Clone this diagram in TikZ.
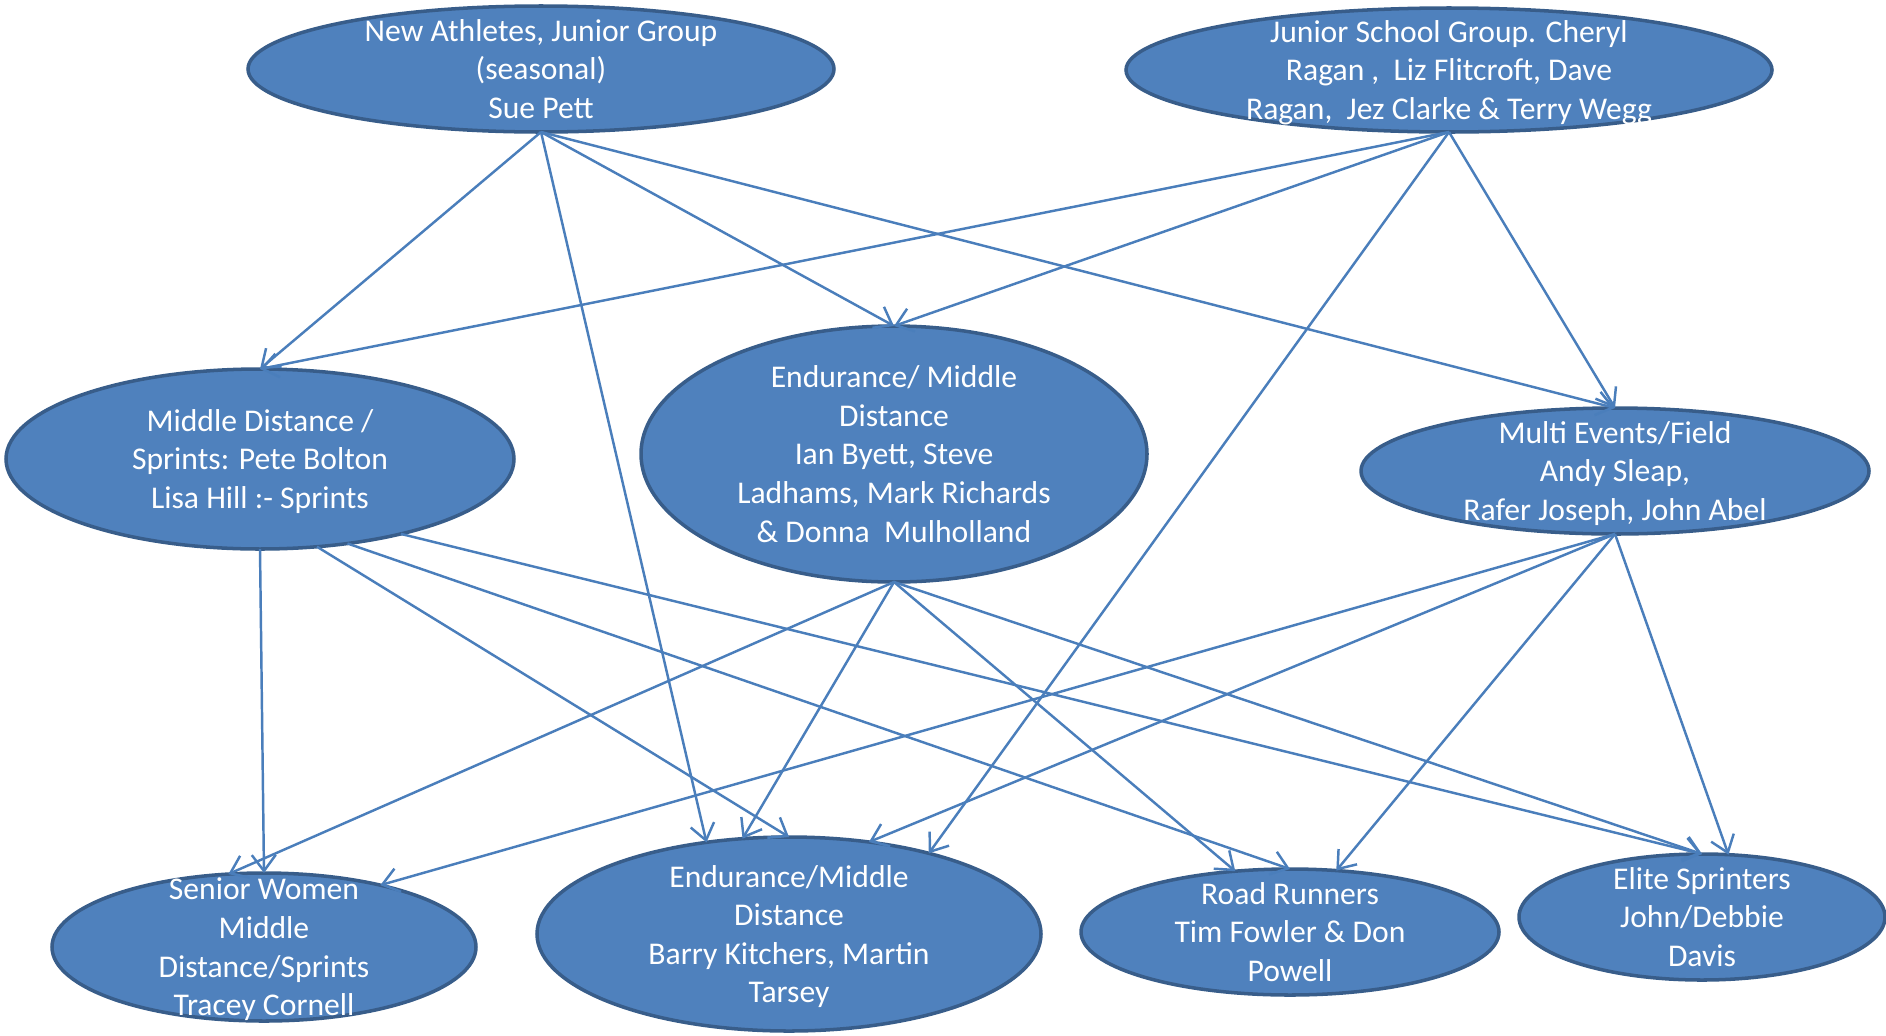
\documentclass[tikz,border=0pt]{standalone}
\usepackage{fontspec}
\setmainfont{Carlito}
\usetikzlibrary{shapes.geometric, arrows.meta}
\definecolor{grpblue}{RGB}{79,129,189}
\definecolor{grpedge}{RGB}{56,93,138}
\definecolor{linkblue}{RGB}{74,126,187}

\begin{document}
\begin{tikzpicture}[x=0.1mm, y=-0.1mm,
  group/.style={ellipse, draw=grpedge, fill=grpblue, line width=1pt, text=white, align=center,
    inner sep=-5mm, outer sep=0pt, text depth=0pt, font=\fontsize{9}{11}\selectfont},
  link/.style={draw=linkblue, line width=0.7pt, -{Straight Barb[length=1.6mm, width=2.4mm]}}]
  \useasboundingbox (0,0) rectangle (1886,1035);

  \node[group, minimum width=58.6mm, minimum height=12.6mm] (newath) at (541,69) {New Athletes, Junior Group\\(seasonal)\\Sue Pett};
  \node[group, minimum width=64.6mm, minimum height=12.4mm] (juniors) at (1449,70) {Junior School Group. Cheryl\\Ragan ,\ \ Liz Flitcroft, Dave\\Ragan,\ \ Jez Clarke \& Terry Wegg};
  \node[group, minimum width=50.8mm, minimum height=18mm] (middist) at (260,459) {Middle Distance /\\Sprints: Pete Bolton\\Lisa Hill :- Sprints};
  \node[group, minimum width=50.6mm, minimum height=25.6mm] (endur) at (894,454) {Endurance/ Middle\\Distance\\Ian Byett, Steve\\Ladhams, Mark Richards\\\& Donna\ \ Mulholland};
  \node[group, minimum width=50.8mm, minimum height=12.6mm] (multi) at (1615,471) {Multi Events/Field\\Andy Sleap,\\Rafer Joseph, John Abel};
  \node[group, minimum width=42.4mm, minimum height=14.8mm] (seniorw) at (264,947) {Senior Women\\Middle\\Distance/Sprints\\Tracey Cornell};
  \node[group, minimum width=50.4mm, minimum height=19.4mm] (endurb) at (789,934) {Endurance/Middle\\Distance\\Barry Kitchers, Martin\\Tarsey};
  \node[group, minimum width=41.8mm, minimum height=12.6mm] (road) at (1290,932) {Road Runners\\Tim Fowler \& Don\\Powell};
  \node[group, minimum width=36.6mm, minimum height=12.6mm] (elite) at (1702,917) {Elite Sprinters\\John/Debbie\\Davis};

  \draw[link] (newath.south) -- (middist.north);
  \draw[link] (newath.south) -- (endurb.132);
  \draw[link] (newath.south) -- (endur.north);
  \draw[link] (newath.south) -- (multi.north);

  \draw[link] (juniors.south) -- (middist.north);
  \draw[link] (juniors.south) -- (endur.north);
  \draw[link] (juniors.south) -- (endurb.30);
  \draw[link] (juniors.south) -- (multi.north);

  \draw[link] (middist.south) -- (seniorw.north);
  \draw[link] (middist.-57) -- (endurb.north);
  \draw[link] (middist.-44) -- (road.north);
  \draw[link] (middist.-28) -- (elite.north);

  \draw[link] (endur.south) -- (seniorw.116);
  \draw[link] (endur.south) -- (endurb.116);
  \draw[link] (endur.south) -- (road.132);
  \draw[link] (endur.south) -- (elite.north);

  \draw[link] (multi.south) -- (seniorw.28);
  \draw[link] (multi.south) -- (endurb.49);
  \draw[link] (multi.south) -- (road.53);
  \draw[link] (multi.south) -- (elite.67);
\end{tikzpicture}
\end{document}
